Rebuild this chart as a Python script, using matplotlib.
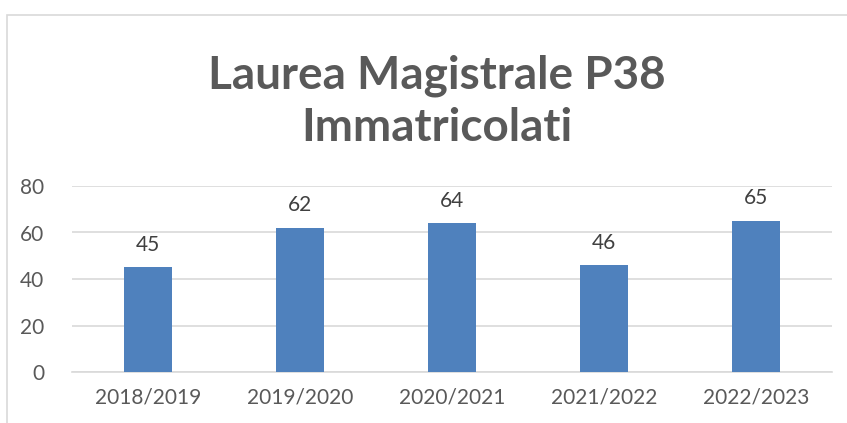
import matplotlib.pyplot as plt
from matplotlib.patches import Rectangle

anni = ["2018/2019", "2019/2020", "2020/2021", "2021/2022", "2022/2023"]
immatricolati = [45, 62, 64, 46, 65]
y_ticks = [0, 20, 40, 60, 80]

plt.rcParams['font.family'] = ['Lato', 'DejaVu Sans']

fig = plt.figure(figsize=(8.47, 4.23), dpi=100)
ax = fig.add_axes([72/847, 1 - 372/423, (832-72)/847, (372-186)/423])

# cornice del grafico
fig.patches.append(Rectangle((7/847, -0.1), 1.2, 1 - 15/423 + 0.1, transform=fig.transFigure,
                             fill=False, edgecolor='#D9D9D9', linewidth=1.2))

x = range(len(anni))
bars = ax.bar(x, immatricolati, width=0.32, color='#4F81BD', zorder=3)
for xi, v in zip(x, immatricolati):
    ax.annotate(str(v), (xi, v), xytext=(0, 9), textcoords='offset points',
                ha='center', va='bottom', fontsize=15, color='#404040')

ax.set_xlim(-0.5, len(anni) - 0.5)
ax.set_ylim(0, 80)
ax.set_yticks(y_ticks)
ax.set_xticks(list(x))
ax.set_xticklabels(anni)
ax.grid(axis='y', color='#D9D9D9', linewidth=1.2, zorder=0)
for s in ['top', 'right', 'left']:
    ax.spines[s].set_visible(False)
ax.spines['bottom'].set_color('#D9D9D9')
ax.spines['bottom'].set_linewidth(1.2)
ax.tick_params(length=0, labelsize=15, labelcolor='#595959')
ax.tick_params(axis='y', pad=20)
ax.tick_params(axis='x', pad=11)

fig.text(437/847, 1 - 102/423, "Laurea Magistrale P38\nImmatricolati", ha='center', va='center',
         fontsize=33, fontweight='bold', color='#595959', linespacing=1.3)

fig.savefig('out.png', dpi=100)
